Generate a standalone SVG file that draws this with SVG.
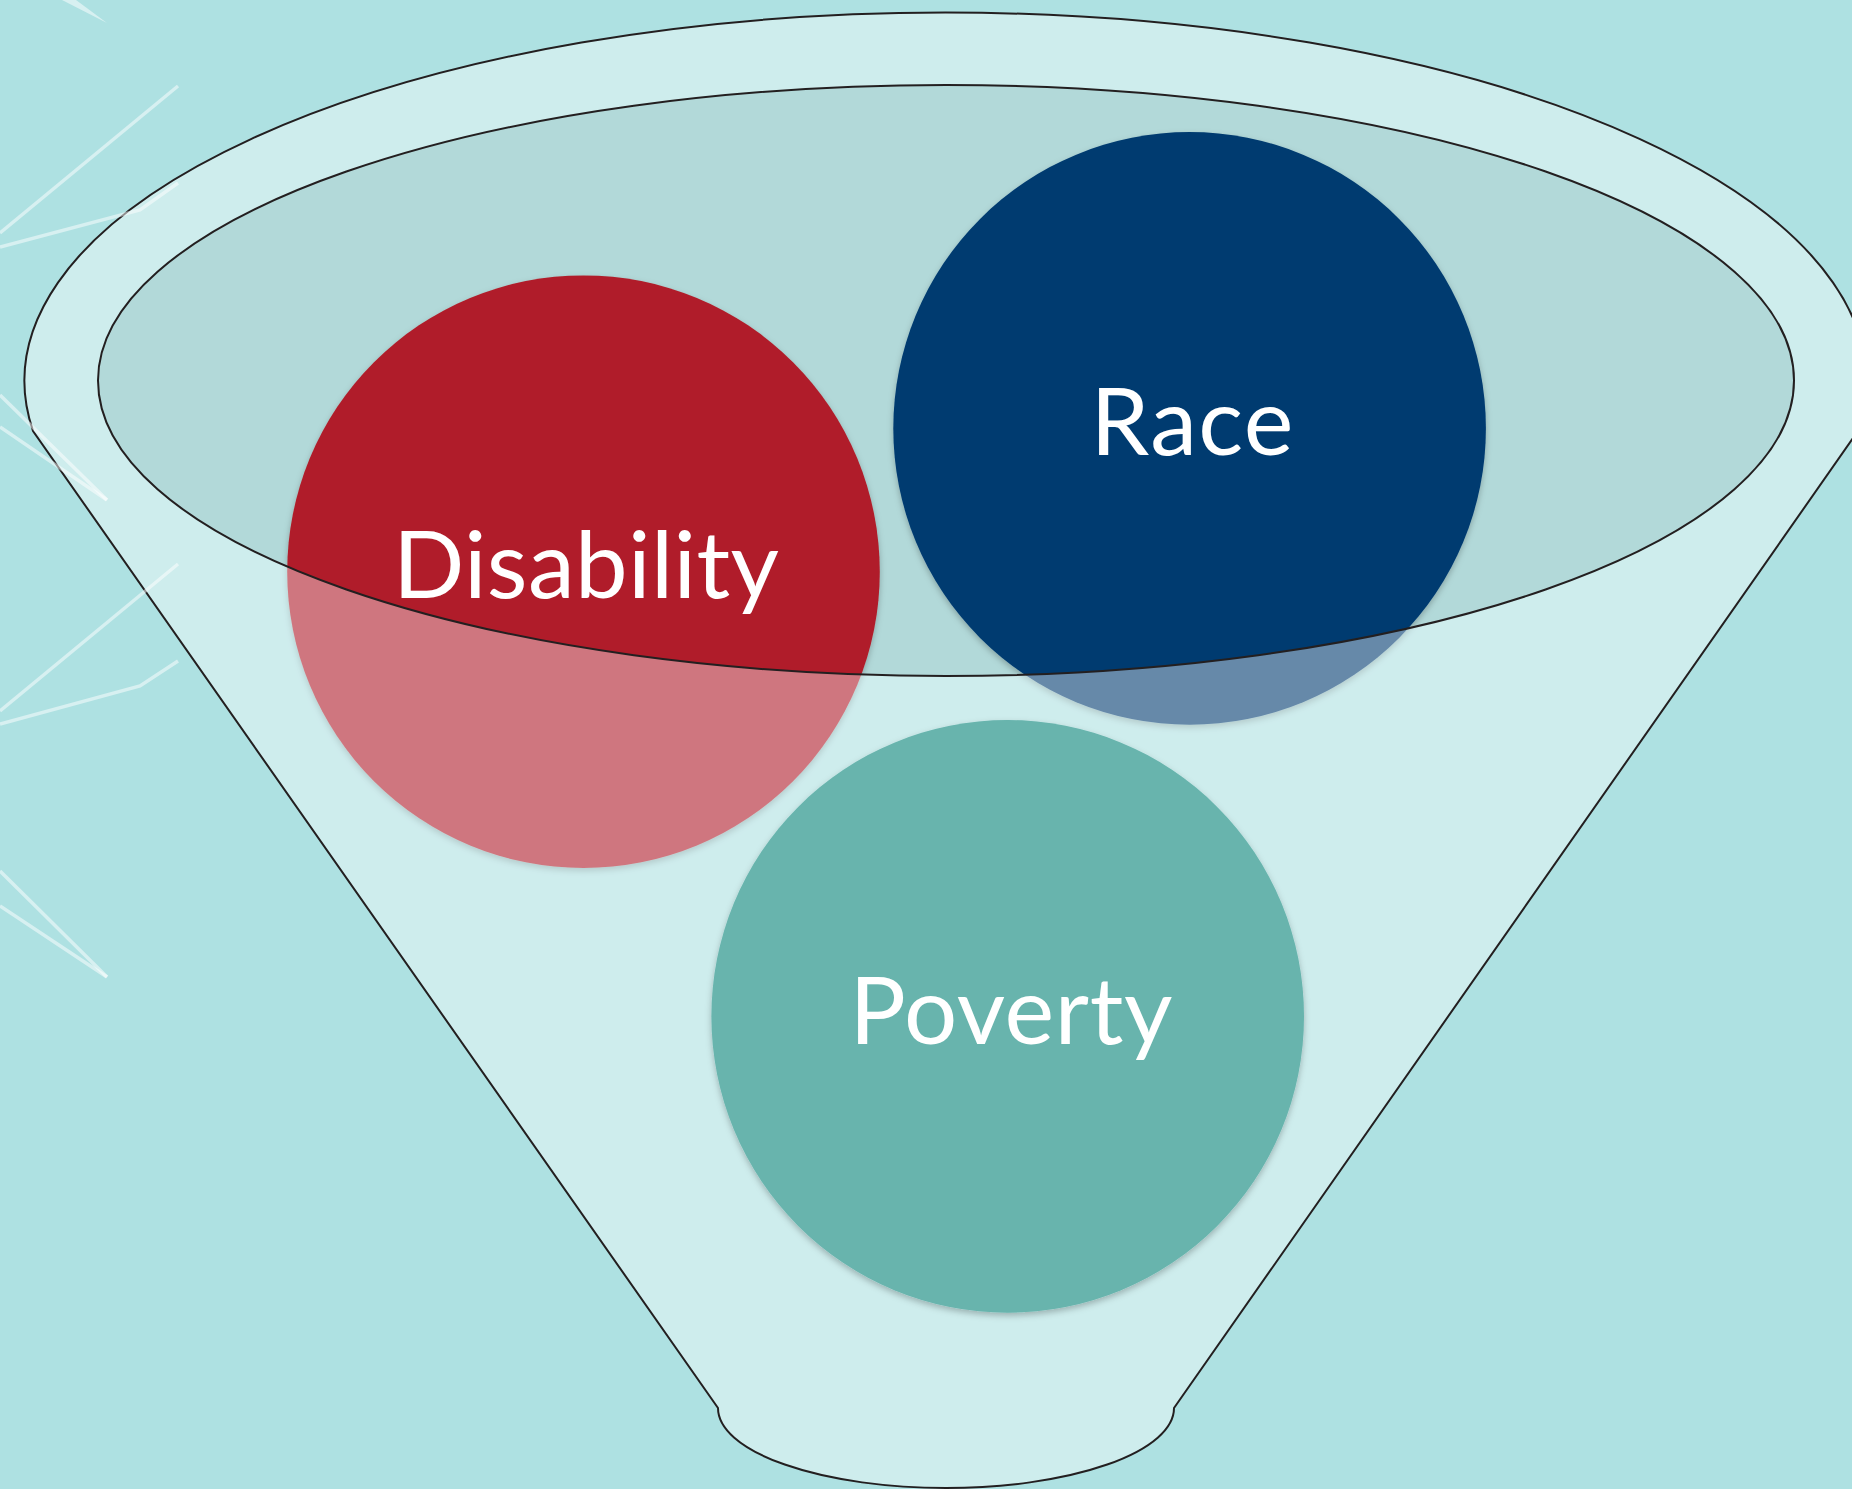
<svg xmlns="http://www.w3.org/2000/svg" width="1852" height="1489" viewBox="0 0 1852 1489">
  <defs>
    <style>
      .label { font-family: Lato, "Noto Sans", "Liberation Sans", sans-serif; font-size: 94px; fill: #FFFFFF; text-anchor: middle; }
      .outline { fill: none; stroke: #231F20; stroke-width: 2; }
      .deco { stroke: #FFFFFF; stroke-opacity: 0.5; stroke-width: 3.5; fill: none; }
      .decofill { fill: #FFFFFF; fill-opacity: 0.5; }
    </style>
    <filter id="shadow" x="-10%" y="-10%" width="120%" height="125%">
      <feDropShadow dx="0" dy="3" stdDeviation="3" flood-color="#000000" flood-opacity="0.25"/>
    </filter>
  </defs>

  <rect x="0" y="0" width="1852" height="1489" fill="#AEE1E2"/>

  <g id="funnel">
    <ellipse id="funnel-opening" cx="946" cy="380.5" rx="848" ry="295.5" fill="#B2D9D9"/>
  </g>

  <g id="node-disability" filter="url(#shadow)">
    <circle cx="583.5" cy="571.7" r="296.3" fill="#B01F2A"/>
  </g>
  <g id="node-race" filter="url(#shadow)">
    <circle cx="1189.6" cy="428.4" r="296.3" fill="#003B70"/>
  </g>

  <path id="funnel-front" fill="#FFFFFF" fill-opacity="0.4" fill-rule="evenodd"
        d="M 33 431 A 921 368.5 0 1 1 1858 431 L 1174 1408 A 228 80 0 0 1 718 1408 Z
           M 98 380.5 A 848 295.5 0 1 0 1794 380.5 A 848 295.5 0 1 0 98 380.5 Z"/>

  <g id="node-poverty" filter="url(#shadow)">
    <circle cx="1007.7" cy="1016.4" r="296.3" fill="#67B4AD"/>
  </g>

  <g id="outlines">
    <path class="outline" d="M 33 431 A 921 368.5 0 1 1 1858 431 L 1174 1408 A 228 80 0 0 1 718 1408 Z"/>
    <ellipse class="outline" cx="946" cy="380.5" rx="848" ry="295.5" stroke-width="1.8"/>
  </g>

  <g id="labels">
    <text class="label" x="586" y="598" textLength="386" lengthAdjust="spacing">Disability</text>
    <text class="label" x="1192" y="455" textLength="203" lengthAdjust="spacing">Race</text>
    <text class="label" x="1011" y="1044" textLength="323" lengthAdjust="spacing">Poverty</text>
  </g>

  <g id="connectors"/>

  <g id="decoration">
    <polygon class="decofill" points="62,0 76,0 107,23"/>
    <line class="deco" x1="0" y1="233" x2="178" y2="86"/>
    <polyline class="deco" points="0,247 140,210 178,183"/>
    <line class="deco" x1="0" y1="395" x2="107" y2="500"/>
    <line class="deco" x1="0" y1="427" x2="107" y2="500"/>
    <line class="deco" x1="0" y1="711" x2="178" y2="564"/>
    <polyline class="deco" points="0,724 140,686 178,661"/>
    <line class="deco" x1="0" y1="871" x2="107" y2="977"/>
    <line class="deco" x1="0" y1="906" x2="107" y2="977"/>
  </g>
</svg>
